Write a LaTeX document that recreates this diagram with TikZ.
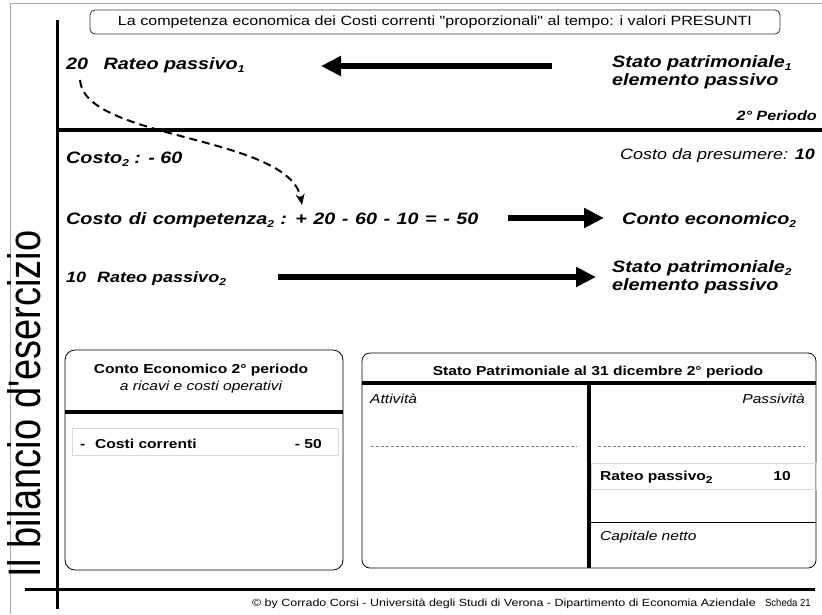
\documentclass[tikz,border=0pt]{standalone}
\usepackage{fontspec}
\setmainfont{Liberation Sans}[FakeStretch=1.2,Ligatures=TeXOff]
\newfontfamily\vfont{Liberation Sans}[FakeStretch=0.8333,Ligatures=TeXOff]
\usetikzlibrary{arrows.meta}
\newcommand\fs[1]{\fontsize{#1}{#1}\selectfont}
\newcommand\sbs[1]{\raisebox{-3pt}{\fontsize{10}{10}\selectfont #1}}
\begin{document}
\begin{tikzpicture}[x=1pt,y=-1pt,
  bi/.style={font=\fs{16.5}\bfseries\itshape,anchor=base west,inner sep=0pt},
  bx/.style={font=\fs{13}\bfseries,inner sep=0pt},
  ix/.style={font=\fs{13}\itshape,inner sep=0pt},
  fat/.style={line width=6.5pt,-{Triangle[length=20pt,width=19pt]}},
  frame/.style={line width=0.8pt,rounded corners=#1},
  thick4/.style={line width=4pt},
  dsh/.style={gray,line width=0.6pt,dash pattern=on 3pt off 2pt},
  light/.style={black!15,line width=0.8pt}]
\useasboundingbox (0,0) rectangle (822,614);
\fill[white] (0,0) rectangle (822,614);
% outer frame and rules
\draw[gray!70,line width=0.8pt] (10,614) -- (10,3) -- (822,3);
\draw[line width=3pt] (57.5,20) -- (57.5,609);
\draw[thick4] (59,129.5) -- (822,129.5);
\draw[line width=3pt] (25,589) -- (815,589);
% title
\node[draw=black!80,line width=0.8pt,rounded corners=5pt,minimum width=690pt,minimum height=24pt,inner sep=0pt,font=\fs{13.4}] (title) at (435,22) {La competenza economica dei Costi correnti "proporzionali" al tempo: i valori PRESUNTI};
% vertical title
\node[rotate=90,font=\vfont\fs{45.6},anchor=base west,inner sep=0pt] (vt) at (40,578) {Il bilancio d'esercizio};
% first period
\node[bi] (rp1) at (66,69) {20\hspace{0.6em} Rateo passivo\sbs{1}};
\node[bi] (sp1a) at (612,67) {Stato patrimoniale\sbs{1}};
\node[bi] (sp1b) at (612,85) {elemento passivo};
\coordinate (a0s) at (552,66);
\coordinate (a0e) at (321,66);
\draw[fat] (a0s) -- (a0e);
\node[font=\fs{13.5}\bfseries\itshape,anchor=base east,inner sep=0pt] (per) at (817,120) {2° Periodo};
% second period
\node[bi] (c2) at (66,163) {Costo\sbs{2} : - 60};
\node[font=\fs{15}\itshape,anchor=base east,inner sep=0pt] (cp) at (815,159) {Costo da presumere: \textbf{10}};
\node[bi] (cdc) at (66,224) {\spaceskip=6.5pt plus 1pt Costo di competenza\sbs{2} : + 20 - 60 - 10 = - 50};
\coordinate (a1s) at (508,218);
\coordinate (a1e) at (604,218);
\draw[fat] (a1s) -- (a1e);
\node[bi] (ce2) at (622,224) {Conto economico\sbs{2}};
\node[bi,font=\fs{15}\bfseries\itshape] (rp2) at (66,282) {10\hspace{0.4em} Rateo passivo\sbs{2}};
\coordinate (a2s) at (278,277);
\coordinate (a2e) at (596,277);
\draw[fat] (a2s) -- (a2e);
\node[bi] (sp2a) at (612,272) {Stato patrimoniale\sbs{2}};
\node[bi] (sp2b) at (612,290) {elemento passivo};
% dashed curve
\coordinate (d0) at (80,80);
\coordinate (d1) at (302,205);
\draw[line width=2pt,dash pattern=on 8pt off 5pt,-{Stealth[length=11pt,width=9pt]}] (d0) .. controls (84,140) and (290,135) .. (d1);
% Conto economico box
\draw[frame=10pt] (65,350) rectangle (343,570);
\draw[thick4] (65,412) -- (343,412);
\draw[light] (72,428) rectangle (338,455);
\node[bx,anchor=base] (ceT) at (201,373) {Conto Economico 2° periodo};
\node[font=\fs{13}\itshape,inner sep=0pt,anchor=base] (ceS) at (201,390) {a ricavi e costi operativi};
\node[bx,anchor=base west] (ceD) at (80,448) {-};
\node[bx,anchor=base west] (ceC) at (95,448) {Costi correnti};
\node[bx,anchor=base east] (ceV) at (322,448) {- 50};
% Stato patrimoniale box
\draw[frame=8pt] (362,353) rectangle (816,568);
\draw[thick4] (362,383) -- (816,383);
\draw[light] (591,463) rectangle (816,489);
\draw[thick4] (589,383) -- (589,568);
\draw[line width=0.8pt] (591,522) -- (816,522);
\draw[dsh] (371,446) -- (577,446);
\draw[dsh] (598,446) -- (805,446);
\node[bx,anchor=base] (spT) at (598,375) {Stato Patrimoniale al 31 dicembre 2° periodo};
\node[ix,anchor=base west] (att) at (370,403) {Attività};
\node[ix,anchor=base east] (pas) at (805,403) {Passività};
\node[bx,anchor=base west] (rpv) at (600,480) {Rateo passivo\sbs{2}};
\node[bx,anchor=base east] (rpn) at (791,480) {10};
\node[ix,anchor=base west] (cn) at (600,540) {Capitale netto};
% footer
\node[font=\fs{10.4},anchor=base east,inner sep=0pt] (foot) at (756,606) {© by Corrado Corsi - Università degli Studi di Verona - Dipartimento di Economia Aziendale};
\node[font=\fs{10.4}\addfontfeatures{FakeStretch=0.92},anchor=base east,inner sep=0pt] (sch) at (811,606) {Scheda 21};
\end{tikzpicture}
\end{document}
